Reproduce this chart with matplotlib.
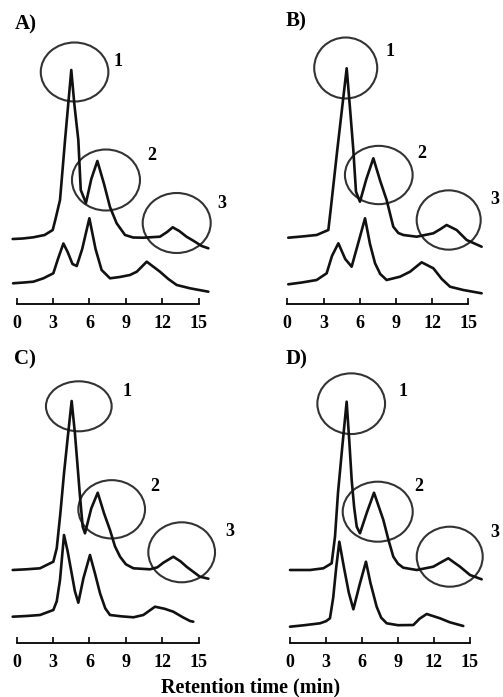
# chromatograms of four runs, two traces each, with the three marked peaks
import numpy as np
from matplotlib import (pyplot as plt, patches as pat)

# ---------------------------------------------------------
# traces: retention time (min) and detector signal (a.u.)
a_top_t = [-0.33, 0.5, 1.37, 2.3, 2.97, 3.2, 3.57, 3.71, 4.0, 4.25, 4.5, 4.75, 5.08,
           5.28, 5.71, 6.15, 6.65, 7.2, 7.69, 8.24, 8.93, 9.6, 10.44,
           11.81, 12.4, 12.86, 13.4, 14.0, 14.6, 15.25, 15.8]
a_top_s = [65, 65.5, 66.7, 69, 74, 85, 104, 124, 166, 200, 234, 200, 164,
           114, 101, 125, 143, 120, 97, 80.7, 69, 66.5, 66.3,
           67.3, 72, 76.7, 73, 67.3, 63, 58, 55.7]
a_bot_t = [-0.3, 0.6, 1.37, 2.2, 3.02, 3.4, 3.85, 4.2, 4.6, 4.95, 5.4, 5.99,
           6.5, 7.0, 7.69, 8.5, 9.34, 9.9, 10.72, 11.81, 12.5, 13.19, 14.29, 15.8]
a_bot_s = [20.7, 21.5, 22.3, 25.7, 30.7, 45, 60.5, 52, 40, 38, 55, 85.7,
           55, 34, 25.7, 27, 29, 32.3, 42.3, 32.3, 25, 19, 15.7, 12.3]

b_top_t = [0.08, 1.2, 2.43, 3.4, 3.6, 4.14, 4.92, 5.2, 5.47, 5.69, 6.02, 6.55,
           7.13, 7.7, 8.23, 8.78, 9.2, 9.61, 10.72, 12.1, 12.7, 13.2, 14.03,
           14.86, 16.1]
b_top_s = [66.3, 67.5, 69, 74, 95, 154, 235.7, 195, 154, 112.3, 102.3, 125,
           145.7, 123, 104, 77.3, 71, 69, 67.3, 70.7, 75, 79, 74,
           64, 57.3]
b_bot_t = [0.08, 1.2, 2.43, 3.26, 3.7, 4.23, 4.8, 5.33, 5.9, 6.44, 6.85, 7.27,
           7.7, 8.23, 9.34, 10.17, 11.13, 12.1, 12.8, 13.48, 14.58, 16.1]
b_bot_s = [19.7, 21.5, 24, 30.7, 48, 60.7, 45, 37.3, 62, 85.7, 60, 40.7,
           30, 24, 27.3, 32.3, 41.7, 35.7, 25, 17.3, 14, 10.7]

c_top_t = [-0.33, 0.8, 1.92, 3.02, 3.3, 3.6, 3.9, 4.2, 4.53, 4.8, 5.0, 5.22,
           5.44, 5.63, 6.15, 6.68, 7.2, 7.69, 8.1, 8.52, 9.0, 9.62, 10.99,
           11.6, 12.09, 12.91, 13.5, 14.0, 15.1, 15.8]
c_top_s = [73.3, 74, 75, 81.6, 95, 130, 170, 205, 242.3, 210, 180, 146.6,
           116.6, 110, 135, 150.6, 130, 113.3, 97, 86.6, 79, 75, 74,
           76, 80.6, 86.6, 82, 76.6, 66.6, 64.6]
c_bot_t = [-0.33, 0.8, 1.92, 3.02, 3.3, 3.57, 3.9, 4.2, 4.53, 4.8, 5.08, 5.5,
           6.04, 6.45, 6.87, 7.3, 7.69, 8.6, 9.62, 10.44, 11.4, 12.2, 12.91,
           13.7, 14.29, 14.56]
c_bot_s = [26.6, 27.3, 28.3, 33.3, 42, 63.3, 108.3, 92, 70, 52, 40.6, 65,
           88.3, 70, 50, 35, 28.3, 27, 26, 28.3, 36.6, 34.5, 31.6,
           26, 22.3, 21.6]

d_top_t = [0.0, 1.67, 2.78, 3.47, 3.75, 4.0, 4.35, 4.72, 4.95, 5.14, 5.35,
           5.56, 5.83, 6.4, 7.0, 7.4, 7.78, 8.2, 8.61, 9.0, 9.44, 10.56,
           11.94, 12.6, 13.19, 13.7, 14.17, 15.0, 15.97]
d_top_s = [72.7, 72.7, 74.4, 79.4, 106, 150, 195, 241, 200, 162.7, 135,
           116, 109.4, 130, 150, 136, 122.7, 103, 86, 79, 75, 72.7,
           76, 80.5, 84.4, 80, 76, 67.7, 63.4]
d_bot_t = [0.0, 1.2, 2.5, 3.0, 3.33, 3.6, 3.85, 4.11, 4.5, 4.9, 5.28, 5.8,
           6.33, 6.7, 7.22, 7.6, 8.06, 9.0, 10.28, 10.8, 11.39, 12.5,
           13.3, 14.44]
d_bot_s = [16, 17.5, 19.4, 21.5, 24.4, 45, 75, 101, 75, 50, 33.4, 58,
           81, 60, 36, 25, 19.4, 17.5, 17.7, 24, 28.7, 24.4,
           20.5, 16.7]

panel_names = ['A)', 'B)', 'C)', 'D)']
peak_names = ['1', '2', '3']
time_ticks = [0, 3, 6, 9, 12, 15]

# ---------------------------------------------------------
# layout (pixels): x of t=0, pixels per minute, y of baseline axis
W, H = 503, 697
frames = [(16.7, 12.13, 304.0), (287.3, 12.07, 304.0),
          (16.7, 12.13, 643.3), (290.0, 12.00, 642.7)]
# marker circles: centre t, centre s, width px, height px
rings = [
    [(4.77, 232, 67.6, 59), (7.36, 124, 68, 61), (13.19, 81, 68, 60)],
    [(4.84, 236, 63, 61), (7.58, 129, 67.7, 58.3), (13.37, 84, 64, 59.3)],
    [(5.12, 237, 65.7, 50), (7.83, 134, 66.7, 58.3), (13.6, 91, 66.7, 60)],
    [(5.10, 239, 67.7, 60.7), (7.31, 131, 70, 60), (13.31, 86, 66, 60)],
]
ring_text = [
    [(8.35, 243), (11.15, 149), (16.93, 101)],
    [(8.51, 252), (11.13, 151), (17.2, 104)],
    [(9.07, 252), (11.4, 157), (17.58, 112)],
    [(9.44, 251), (10.69, 156), (17.08, 110)],
]
label_pos = [(0.73, 280), (0.76, 283), (0.68, 284), (0.56, 283)]

traces = [((a_top_t, a_top_s), (a_bot_t, a_bot_s)),
          ((b_top_t, b_top_s), (b_bot_t, b_bot_s)),
          ((c_top_t, c_top_s), (c_bot_t, c_bot_s)),
          ((d_top_t, d_top_s), (d_bot_t, d_bot_s))]

serif = 'Liberation Serif'
fig = plt.figure(figsize=(W / 100, H / 100), dpi=100)

for k in range(4):
    x0, ppm, base = frames[k]
    t_lo, t_hi, s_hi = -1.0, 17.0, 300.0
    rect = [(x0 + t_lo * ppm) / W, (H - base) / H,
            (t_hi - t_lo) * ppm / W, s_hi / H]
    ax = fig.add_axes(rect)
    ax.set_xlim(t_lo, t_hi); ax.set_ylim(0, s_hi)
    ax.patch.set_alpha(0)

    for tt, ss in traces[k]:
        ax.plot(tt, ss, color='#111111', linewidth=1.9,
                solid_joinstyle='round', solid_capstyle='round', clip_on=False)

    for (tc, sc, wp, hp), (tx, sy), name in zip(rings[k], ring_text[k], peak_names):
        ax.add_patch(pat.Ellipse((tc, sc), wp / ppm, hp, fill=False,
                                 edgecolor='#333333', linewidth=1.5, clip_on=False))
        ax.text(tx, sy, name, fontsize=13, fontweight='bold', family=serif,
                ha='center', va='center', clip_on=False)

    ax.text(*label_pos[k], panel_names[k], fontsize=15, fontweight='bold',
            family=serif, ha='center', va='center')

    for side in ['top', 'right', 'left']:
        ax.spines[side].set_visible(False)
    ax.spines['bottom'].set_bounds(0, 15)
    ax.spines['bottom'].set_linewidth(1.3)
    ax.set_yticks([])
    ax.set_xticks(time_ticks)
    ax.tick_params(axis='x', direction='in', length=4, width=1.2, pad=8,
                   labelsize=13)
    for lb in ax.get_xticklabels():
        lb.set_fontfamily(serif); lb.set_fontweight('bold')

fig.text(251 / W, 1 - 687 / H, 'Retention time (min)', fontsize=14.5,
         fontweight='bold', family=serif, ha='center', va='center')

fig.savefig('out.png', dpi=100)
